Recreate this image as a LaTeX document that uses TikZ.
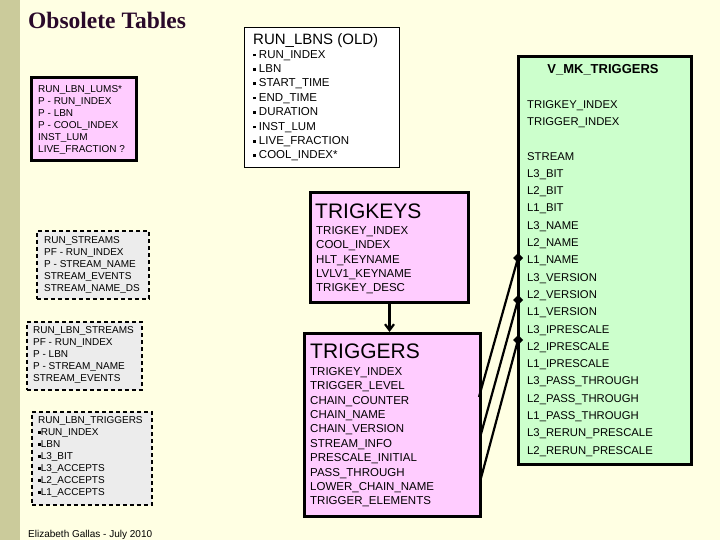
\documentclass[tikz,border=0pt]{standalone}
\usepackage{fontspec}
\setmainfont{Liberation Sans}
\newfontfamily\serifT{Liberation Serif}
\usetikzlibrary{arrows.meta}
\definecolor{bg}{HTML}{FFFFE3}
\definecolor{bar}{HTML}{CBCB9B}
\definecolor{pinkf}{HTML}{FFCCFF}
\definecolor{greenf}{HTML}{CCFFCC}
\definecolor{grayf}{HTML}{ECECEC}
\definecolor{titlec}{HTML}{2A0A2A}
\newcommand{\bul}{\raisebox{0.3ex}{\rule{2.6pt}{2.6pt}}}
\tikzset{
 box/.style={draw=black,anchor=north west,inner sep=0pt},
 thickbox/.style={box,line width=3pt,fill=pinkf},
 dashbox/.style={box,line width=1.8pt,dash pattern=on 4pt off 3pt,fill=grayf},
 small/.style={anchor=north west,align=left,inner sep=0pt,font=\fontsize{10}{12}\selectfont},
 mid/.style={anchor=north west,align=left,inner sep=0pt,font=\fontsize{11.5}{14.4}\selectfont},
 conn/.style={line width=2.2pt},
}
\begin{document}
\begin{tikzpicture}[x=1pt,y=-1pt]
\useasboundingbox (0,0) rectangle (720,540);
\fill[bg] (0,0) rectangle (720,540);
\fill[bar] (0,0) rectangle (20,540);
\node[anchor=west,inner sep=0pt,text=titlec,font=\serifT\bfseries\fontsize{23.5}{28}\selectfont] (title) at (28,20) {Obsolete Tables};
% LUMS
\node[thickbox,minimum width=105,minimum height=83] (lums) at (30,76) {};
\node[small] (lumst) at (38,85) {RUN\_LBN\_LUMS*\\P - RUN\_INDEX\\P - LBN\\P - COOL\_INDEX\\INST\_LUM\\LIVE\_FRACTION ?};
% dashed boxes
\node[dashbox,minimum width=112,minimum height=68] (rs) at (36,230) {};
\node[small] (rst) at (44,236) {RUN\_STREAMS\\PF - RUN\_INDEX\\P - STREAM\_NAME\\STREAM\_EVENTS\\STREAM\_NAME\_DS};
\node[dashbox,minimum width=115,minimum height=68] (rls) at (26,321) {};
\node[small] (rlst) at (33,326) {RUN\_LBN\_STREAMS\\PF - RUN\_INDEX\\P - LBN\\P - STREAM\_NAME\\STREAM\_EVENTS};
\node[dashbox,minimum width=120,minimum height=93] (rlt) at (31,411) {};
\node[small] (rltt) at (38,416) {RUN\_LBN\_TRIGGERS\\\bul RUN\_INDEX\\\bul LBN\\\bul L3\_BIT\\\bul L3\_ACCEPTS\\\bul L2\_ACCEPTS\\\bul L1\_ACCEPTS};
\node[anchor=west,inner sep=0pt,font=\fontsize{10}{12}\selectfont] (foot) at (28,535) {Elizabeth Gallas - July 2010};
% RUN_LBNS
\node[box,fill=white,line width=0.8pt,minimum width=155,minimum height=140] (lbns) at (244,27) {};
\node[anchor=west,inner sep=0pt,font=\fontsize{15}{18}\selectfont] (lbnst) at (253,41) {RUN\_LBNS (OLD)};
\node[mid] (lbnsi) at (253,50) {\bul\ RUN\_INDEX\\\bul\ LBN\\\bul\ START\_TIME\\\bul\ END\_TIME\\\bul\ DURATION\\\bul\ INST\_LUM\\\bul\ LIVE\_FRACTION\\\bul\ COOL\_INDEX*};
% TRIGKEYS
\node[thickbox,minimum width=158,minimum height=110] (tk) at (309,191) {};
\node[anchor=west,inner sep=0pt,font=\fontsize{21}{24}\selectfont] (tkt) at (315,211) {TRIGKEYS};
\node[mid] (tki) at (316,226) {TRIGKEY\_INDEX\\COOL\_INDEX\\HLT\_KEYNAME\\LVLV1\_KEYNAME\\TRIGKEY\_DESC};
% TRIGGERS
\node[thickbox,minimum width=176,minimum height=183] (tr) at (303,332) {};
\node[anchor=west,inner sep=0pt,font=\fontsize{21}{24}\selectfont] (trt) at (310,351) {TRIGGERS};
\node[mid] (tri) at (310,367) {TRIGKEY\_INDEX\\TRIGGER\_LEVEL\\CHAIN\_COUNTER\\CHAIN\_NAME\\CHAIN\_VERSION\\STREAM\_INFO\\PRESCALE\_INITIAL\\PASS\_THROUGH\\LOWER\_CHAIN\_NAME\\TRIGGER\_ELEMENTS};
% V_MK_TRIGGERS
\node[box,fill=greenf,line width=3pt,minimum width=173,minimum height=408] (vmk) at (517,55) {};
\node[anchor=center,inner sep=0pt,font=\bfseries\fontsize{13}{16}\selectfont] (vmkt) at (603,70) {V\_MK\_TRIGGERS};
\node[anchor=north west,align=left,inner sep=0pt,font=\fontsize{11.3}{17.8}\selectfont] (vmka) at (527,100) {TRIGKEY\_INDEX\\TRIGGER\_INDEX};
\node[anchor=north west,align=left,inner sep=0pt,font=\fontsize{11.3}{17.3}\selectfont] (vmkb) at (527,152) {STREAM\\L3\_BIT\\L2\_BIT\\L1\_BIT\\L3\_NAME\\L2\_NAME\\L1\_NAME\\L3\_VERSION\\L2\_VERSION\\L1\_VERSION\\L3\_IPRESCALE\\L2\_IPRESCALE\\L1\_IPRESCALE\\L3\_PASS\_THROUGH\\L2\_PASS\_THROUGH\\L1\_PASS\_THROUGH\\L3\_RERUN\_PRESCALE\\L2\_RERUN\_PRESCALE};
% connectors
\draw[conn,-{Straight Barb[length=6pt,width=9pt]}] (tk.south) -- (tk.south |- tr.north);
\coordinate (e1) at (518,258); \coordinate (e2) at (518,300); \coordinate (e3) at (518,340);
\coordinate (s1) at (479,397); \coordinate (s2) at (481,434); \coordinate (s3) at (481,478);
\draw[conn] (s1) -- (e1); \draw[conn] (s2) -- (e2); \draw[conn] (s3) -- (e3);
\foreach \e in {e1,e2,e3} \fill (\e) ++(-5,0) -- ++(5,-5) -- ++(5,5) -- ++(-5,5) -- cycle;
\end{tikzpicture}
\end{document}
